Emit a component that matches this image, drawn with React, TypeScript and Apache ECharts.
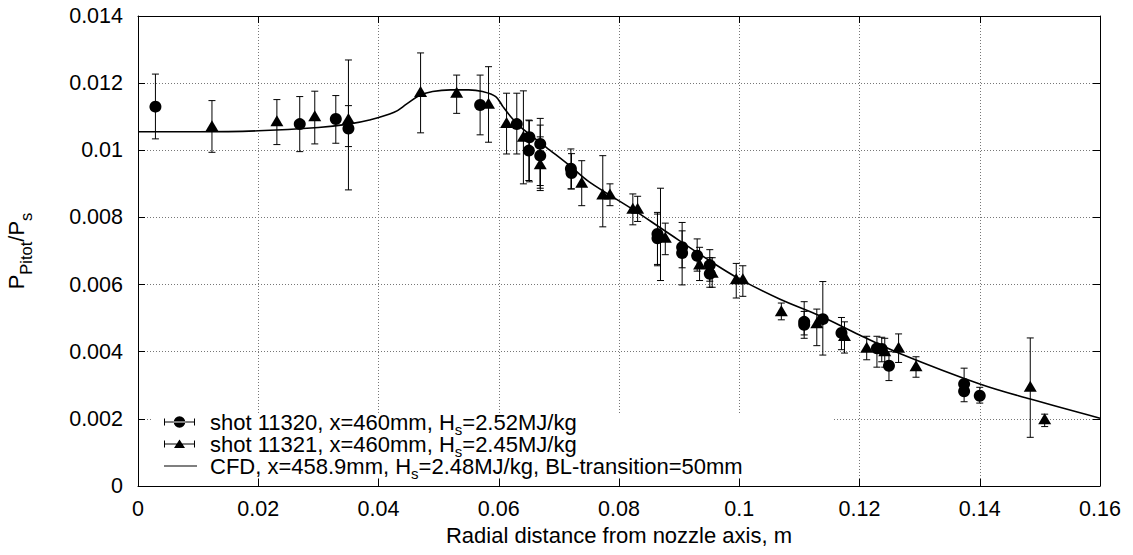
import React, { useEffect, useRef } from 'react';
import * as echarts from 'echarts';

// [x, y, errLow, errHigh]
const shot11320: number[][] = [
  [0.0029, 0.0113, 0.01034, 0.01227],
  [0.0269, 0.01078, 0.00996, 0.0116],
  [0.0329, 0.01093, 0.01021, 0.01163],
  [0.035, 0.01065, 0.01011, 0.01133],
  [0.0569, 0.01135, 0.01046, 0.01224],
  [0.063, 0.01078, 0.00989, 0.0117],
  [0.0651, 0.01039, 0.00906, 0.01088],
  [0.065, 0.00999, 0.0091, 0.0109],
  [0.0669, 0.01019, 0.00887, 0.01095],
  [0.0669, 0.00984, 0.00895, 0.01075],
  [0.072, 0.00945, 0.00885, 0.01004],
  [0.0721, 0.00932, 0.00885, 0.0099],
  [0.0864, 0.00751, 0.00656, 0.00815],
  [0.0864, 0.00738, 0.0066, 0.0081],
  [0.0905, 0.00711, 0.0065, 0.00785],
  [0.0905, 0.00694, 0.00599, 0.0076],
  [0.093, 0.00686, 0.0064, 0.00736],
  [0.0951, 0.00658, 0.0061, 0.00704],
  [0.0951, 0.00632, 0.00592, 0.0068],
  [0.1108, 0.00489, 0.0044, 0.00549],
  [0.1108, 0.0048, 0.0045, 0.0052],
  [0.1139, 0.00497, 0.0039, 0.00609],
  [0.117, 0.00456, 0.00406, 0.00502],
  [0.1229, 0.0041, 0.00354, 0.00446],
  [0.1237, 0.00408, 0.0037, 0.00443],
  [0.1249, 0.00358, 0.00314, 0.004],
  [0.1374, 0.00304, 0.0027, 0.00351],
  [0.1374, 0.00282, 0.00251, 0.0031],
  [0.14, 0.00269, 0.00247, 0.00294],
];

const shot11321: number[][] = [
  [0.0123, 0.01073, 0.00994, 0.01148],
  [0.0231, 0.01088, 0.01017, 0.01151],
  [0.0294, 0.01103, 0.01019, 0.01176],
  [0.035, 0.01095, 0.00882, 0.01269],
  [0.047, 0.01175, 0.01052, 0.0129],
  [0.053, 0.01173, 0.0111, 0.01224],
  [0.0583, 0.0114, 0.01024, 0.01249],
  [0.0613, 0.01083, 0.00989, 0.0117],
  [0.0641, 0.01042, 0.009, 0.01177],
  [0.0669, 0.0096, 0.0088, 0.0104],
  [0.0738, 0.00905, 0.00835, 0.00969],
  [0.0773, 0.0087, 0.00772, 0.00984],
  [0.0785, 0.0087, 0.00835, 0.009],
  [0.0823, 0.00827, 0.00778, 0.0087],
  [0.0831, 0.00827, 0.00788, 0.00863],
  [0.0869, 0.0075, 0.00612, 0.00887],
  [0.0877, 0.00741, 0.00689, 0.00783],
  [0.0934, 0.00661, 0.00612, 0.00711],
  [0.0955, 0.00637, 0.00592, 0.0068],
  [0.0995, 0.00617, 0.0056, 0.00663],
  [0.1006, 0.00617, 0.00565, 0.00656],
  [0.107, 0.00522, 0.00495, 0.00545],
  [0.1129, 0.00486, 0.00418, 0.00527],
  [0.1175, 0.00448, 0.00396, 0.00489],
  [0.1212, 0.00413, 0.00376, 0.00446],
  [0.1242, 0.00403, 0.00354, 0.0044],
  [0.1265, 0.00413, 0.00368, 0.00453],
  [0.1294, 0.00358, 0.00324, 0.00385],
  [0.1484, 0.00297, 0.00145, 0.00441],
  [0.1508, 0.002, 0.00177, 0.00214],
];

const cfdX: number[] = [0, 0.01, 0.02, 0.03, 0.035, 0.0385, 0.0426, 0.0447, 0.0468, 0.049, 0.052, 0.055, 0.0573, 0.0595, 0.0607, 0.062, 0.0634, 0.0679, 0.0718, 0.0751, 0.0823, 0.0873, 0.0956, 0.1, 0.1067, 0.1134, 0.12, 0.1267, 0.14, 0.1484, 0.16];
const cfdY: number[] = [0.01055, 0.01055, 0.01058, 0.01068, 0.01078, 0.0109, 0.01113, 0.01138, 0.01163, 0.01175, 0.0118, 0.0118, 0.01175, 0.0116, 0.0113, 0.011, 0.01073, 0.01009, 0.00954, 0.00905, 0.00824, 0.00764, 0.00665, 0.00617, 0.00557, 0.00507, 0.0045, 0.00395, 0.00304, 0.00259, 0.00202];

const X_MIN = 0, X_MAX = 0.16, X_STEP = 0.02;
const Y_MIN = 0, Y_MAX = 0.014, Y_STEP = 0.002;

const NAME_A = 'shot 11320, x=460mm, Hs=2.52MJ/kg';
const NAME_B = 'shot 11321, x=460mm, Hs=2.45MJ/kg';
const NAME_C = 'CFD, x=458.9mm, Hs=2.48MJ/kg, BL-transition=50mm';
const LEGEND_RICH: Record<string, string> = {
  [NAME_A]: 'shot 11320, x=460mm, H{sub|s}=2.52MJ/kg',
  [NAME_B]: 'shot 11321, x=460mm, H{sub|s}=2.45MJ/kg',
  [NAME_C]: 'CFD, x=458.9mm, H{sub|s}=2.48MJ/kg, BL-transition=50mm',
};
const X_LABEL = 'Radial distance from nozzle axis, m';
const Y_LABEL = 'P{sub|Pitot}/P{sub|s}';

const FONT = '"Liberation Sans", Arial, Helvetica, sans-serif';

const ICON_CIRCLE = 'path://M0 0 M0 5.5 H31 V6.5 H0 Z M0 2.5 H1 V9.5 H0 Z M30 2.5 H31 V9.5 H30 Z M9.7 6 A5.8 5.8 0 1 0 21.3 6 A5.8 5.8 0 1 0 9.7 6 Z M41 12';
const ICON_TRI = 'path://M0 0 M0 5.5 H31 V6.5 H0 Z M0 2.5 H1 V9.5 H0 Z M30 2.5 H31 V9.5 H30 Z M10 10 L15.5 1.5 L21 10 Z M41 12';
const ICON_LINE = 'path://M0 0 M0 5.4 H33 V6.6 H0 Z M41 12';

const LEGEND_LINE_H = 30;
const LEGEND_ROW = 22;

function errorBarSeries(data: number[][]) {
  return {
    type: 'custom',
    data,
    encode: { x: 0, y: [2, 3] },
    z: 2,
    silent: true,
    renderItem: (params: any, api: any) => {
      const x = api.value(0);
      const lo = api.value(2);
      const hi = api.value(3);
      const t = api.coord([x, hi]);
      const b = api.coord([x, lo]);
      const w = 3.5;
      const st = { stroke: '#000', lineWidth: 1 };
      return {
        type: 'group',
        children: [
          { type: 'line', shape: { x1: t[0], y1: t[1], x2: b[0], y2: b[1] }, style: st },
          { type: 'line', shape: { x1: t[0] - w, y1: t[1], x2: t[0] + w, y2: t[1] }, style: st },
          { type: 'line', shape: { x1: b[0] - w, y1: b[1], x2: b[0] + w, y2: b[1] }, style: st },
        ],
      };
    },
  };
}

export default function App() {
  const ref = useRef<HTMLDivElement>(null);
  useEffect(() => {
    if (!ref.current) return;
    const chart = echarts.init(ref.current, undefined, { renderer: 'svg' });
    const axisLineStyle = { color: '#000', width: 1 };
    const tick = { show: true, inside: true, length: 7, lineStyle: { color: '#000', width: 1 } };
    const split = { show: true, lineStyle: { color: '#777', width: 1, type: [1, 2] } };
    const labelStyle = { color: '#000', fontSize: 21.5, fontFamily: FONT };
    chart.setOption({
      animation: false,
      backgroundColor: '#fff',
      grid: { left: 138, right: 33, top: 16, bottom: 69, containLabel: false, outerBoundsMode: 'none' },
      graphic: [
        {
          type: 'rect', left: 152, top: 414, z: 3, silent: true,
          shape: { width: 680, height: 64 },
          style: { fill: '#fff' },
        },
      ],
      xAxis: [
        {
          type: 'value', min: X_MIN, max: X_MAX, interval: X_STEP, position: 'bottom',
          axisLine: { show: true, lineStyle: axisLineStyle },
          axisTick: tick,
          axisLabel: { ...labelStyle, margin: 12 },
          splitLine: split,
          name: X_LABEL, nameLocation: 'middle', nameGap: 36,
          nameTextStyle: { color: '#000', fontSize: 22, fontFamily: FONT },
        },
        {
          type: 'value', min: X_MIN, max: X_MAX, interval: X_STEP, position: 'top',
          axisLine: { show: true, onZero: false, lineStyle: axisLineStyle },
          axisTick: tick, axisLabel: { show: false }, splitLine: { show: false },
        },
      ],
      yAxis: [
        {
          type: 'value', min: Y_MIN, max: Y_MAX, interval: Y_STEP, position: 'left',
          axisLine: { show: true, lineStyle: axisLineStyle },
          axisTick: tick,
          axisLabel: { ...labelStyle, margin: 15 },
          splitLine: split,
          name: Y_LABEL, nameLocation: 'middle', nameGap: 104, nameRotate: 90,
          nameTextStyle: {
            color: '#000', fontSize: 22, fontFamily: FONT, lineHeight: 36,
            rich: { sub: { fontSize: 16.5, fontFamily: FONT, verticalAlign: 'bottom', color: '#000' } },
          },
        },
        {
          type: 'value', min: Y_MIN, max: Y_MAX, interval: Y_STEP, position: 'right',
          axisLine: { show: true, onZero: false, lineStyle: axisLineStyle },
          axisTick: tick, axisLabel: { show: false }, splitLine: { show: false },
        },
      ],
      legend: {
        orient: 'vertical', left: 152, top: 422 - LEGEND_LINE_H / 2,
        padding: [0, 88, 0, 12], itemGap: LEGEND_ROW - LEGEND_LINE_H,
        itemWidth: 41, itemHeight: 12,
        z: 5,
        selectedMode: false,
        formatter: (name: string) => LEGEND_RICH[name] || name,
        textStyle: {
          color: '#000', fontSize: 22, fontFamily: FONT, lineHeight: LEGEND_LINE_H,
          rich: { sub: { fontSize: 15, fontFamily: FONT, verticalAlign: 'bottom', color: '#000' } },
        },
        data: [
          { name: NAME_A, icon: ICON_CIRCLE },
          { name: NAME_B, icon: ICON_TRI },
          { name: NAME_C, icon: ICON_LINE },
        ],
      },
      series: [
        {
          name: NAME_C, type: 'line', z: 3,
          data: cfdX.map((x, i) => [x, cfdY[i]]),
          smooth: 0.35, symbol: 'none', color: '#000',
          lineStyle: { color: '#000', width: 1.6 },
          itemStyle: { color: '#000' },
        },
        errorBarSeries(shot11320),
        errorBarSeries(shot11321),
        {
          name: NAME_A, type: 'scatter', z: 4,
          data: shot11320.map((d) => [d[0], d[1]]),
          symbol: 'circle', symbolSize: 12,
          itemStyle: { color: '#000', opacity: 1 },
        },
        {
          name: NAME_B, type: 'scatter', z: 4,
          data: shot11321.map((d) => [d[0], d[1]]),
          symbol: 'triangle', symbolSize: [13, 11],
          itemStyle: { color: '#000', opacity: 1 },
        },
      ],
    });
    return () => chart.dispose();
  }, []);
  return (
    <div
      ref={ref}
      style={{ position: 'fixed', left: 0, top: 0, width: 1133, height: 555, background: '#fff' }}
    />
  );
}
